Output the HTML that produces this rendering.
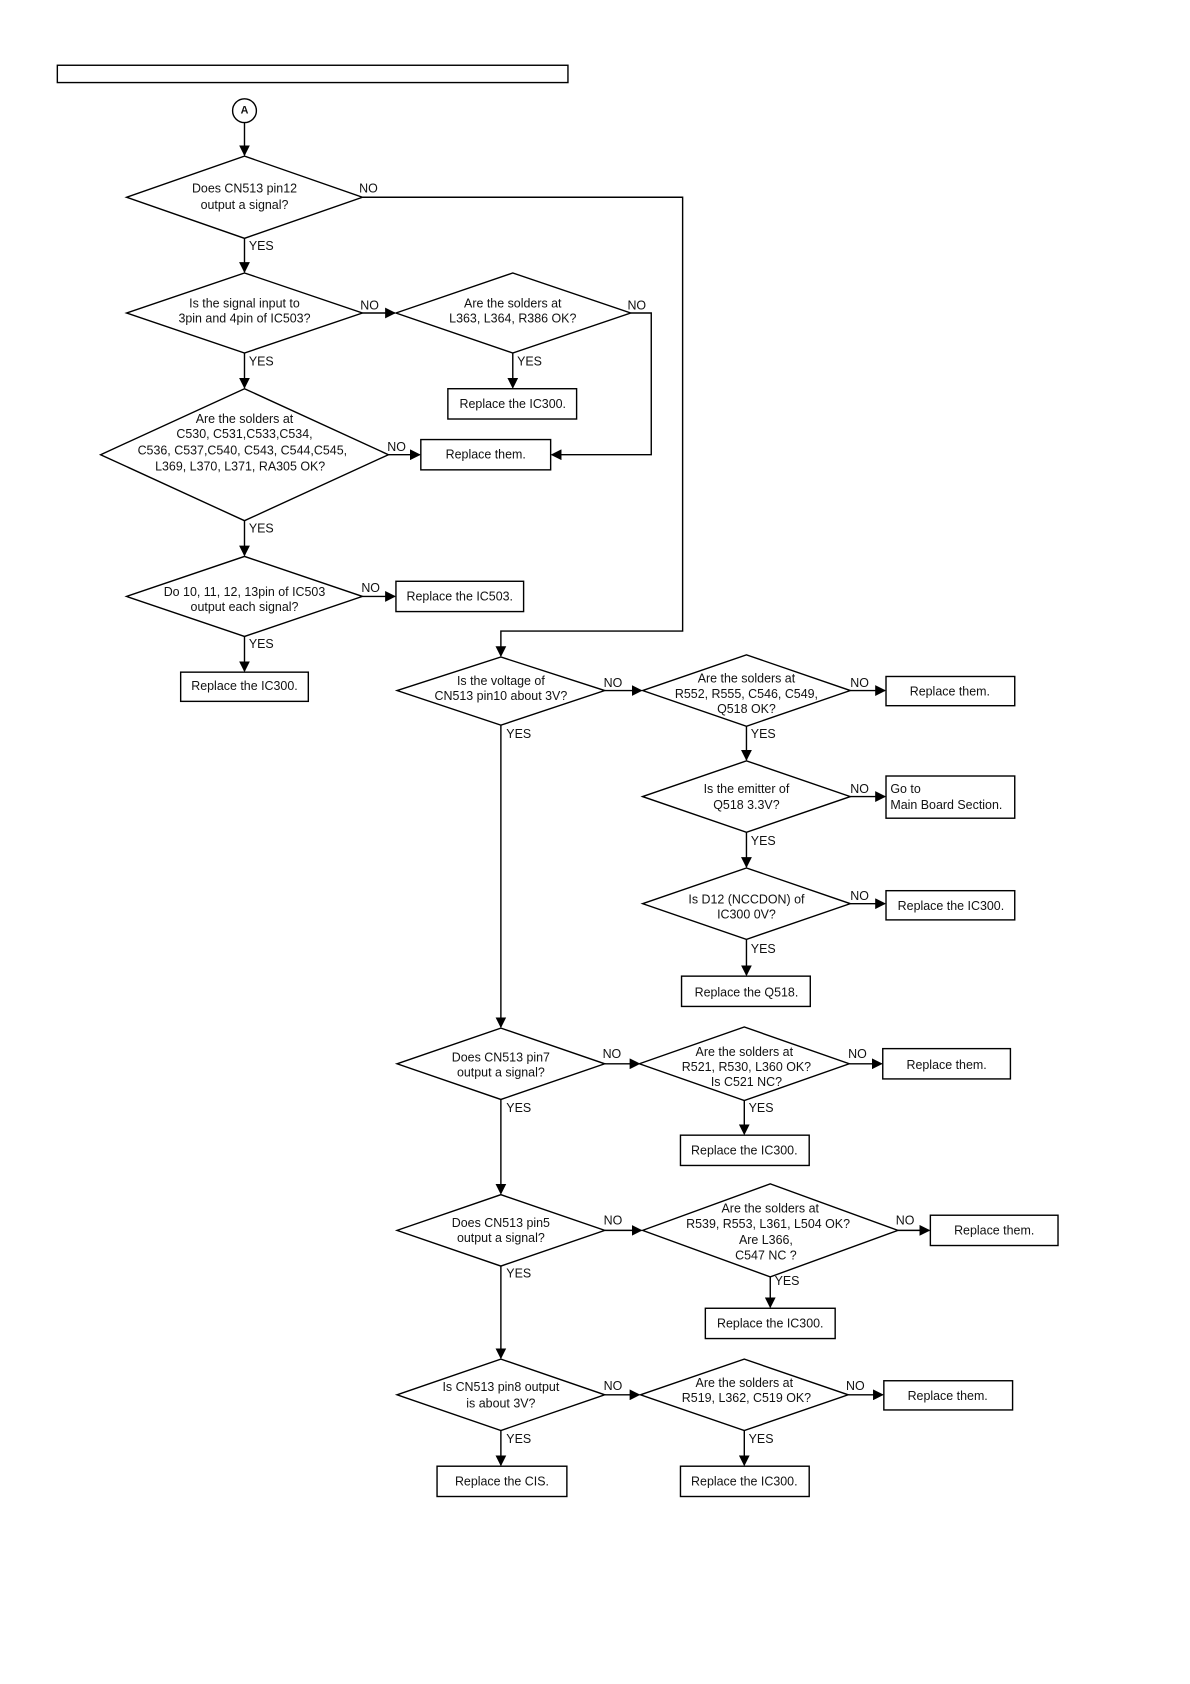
<!DOCTYPE html>
<html><head><meta charset="utf-8"><style>
html,body{margin:0;padding:0;background:#fff}
svg{display:block}
text{font-family:"Liberation Sans",Arial,sans-serif;font-size:11.5px;fill:#111;dominant-baseline:central}
.c{text-anchor:middle}
</style></head><body>
<svg width="1190" height="1684" viewBox="0 0 1100 1556" xmlns="http://www.w3.org/2000/svg">
<defs><marker id="a" markerWidth="10" markerHeight="10" refX="9" refY="5" orient="auto" markerUnits="userSpaceOnUse"><path d="M0,0 L10,5 L0,10 z" fill="#000"/></marker></defs>
<g stroke="#000" stroke-width="1.3" fill="none">
<rect x="53" y="60" width="472" height="16"/>
<circle cx="226" cy="102" r="11"/>
<line x1="226" y1="113" x2="226" y2="143" marker-end="url(#a)"/>
<polygon points="117,182 226,144 335,182 226,220"/>
<polyline points="335,182 631,182 631,583 463,583 463,606" marker-end="url(#a)"/>
<line x1="226" y1="220" x2="226" y2="251" marker-end="url(#a)"/>
<polygon points="117,289 226,252 335,289 226,326"/>
<line x1="335" y1="289" x2="365" y2="289" marker-end="url(#a)"/>
<polygon points="366,289 474,252 583,289 474,326"/>
<polyline points="583,289 602,289 602,420 510,420" marker-end="url(#a)"/>
<line x1="474" y1="326" x2="474" y2="358" marker-end="url(#a)"/>
<rect x="414" y="359" width="119" height="28"/>
<line x1="226" y1="326" x2="226" y2="358" marker-end="url(#a)"/>
<polygon points="93,420 226,359 359,420 226,481"/>
<line x1="359" y1="420" x2="388" y2="420" marker-end="url(#a)"/>
<rect x="389" y="406" width="120" height="28"/>
<line x1="226" y1="481" x2="226" y2="513" marker-end="url(#a)"/>
<polygon points="117,551 226,514 335,551 226,588"/>
<line x1="335" y1="551" x2="365" y2="551" marker-end="url(#a)"/>
<rect x="366" y="537" width="118" height="28"/>
<line x1="226" y1="588" x2="226" y2="620" marker-end="url(#a)"/>
<rect x="167" y="621" width="118" height="27"/>

<polygon points="367,638 463,607 559,638 463,670"/>
<line x1="559" y1="638" x2="593" y2="638" marker-end="url(#a)"/>
<polygon points="594,638 690,605 786,638 690,671"/>
<line x1="786" y1="638" x2="818" y2="638" marker-end="url(#a)"/>
<rect x="819" y="625" width="119" height="27"/>
<line x1="690" y1="671" x2="690" y2="702" marker-end="url(#a)"/>
<polygon points="594,736 690,703 786,736 690,769"/>
<line x1="786" y1="736" x2="818" y2="736" marker-end="url(#a)"/>
<rect x="819" y="717" width="119" height="39"/>
<line x1="690" y1="769" x2="690" y2="801" marker-end="url(#a)"/>
<polygon points="594,835 690,802 786,835 690,868"/>
<line x1="786" y1="835" x2="818" y2="835" marker-end="url(#a)"/>
<rect x="819" y="823" width="119" height="27"/>
<line x1="690" y1="868" x2="690" y2="901" marker-end="url(#a)"/>
<rect x="630" y="902" width="119" height="28"/>
<line x1="463" y1="670" x2="463" y2="949" marker-end="url(#a)"/>

<polygon points="367,983 463,950 559,983 463,1016"/>
<line x1="559" y1="983" x2="591" y2="983" marker-end="url(#a)"/>
<polygon points="591,983 688,949 785,983 688,1017"/>
<line x1="785" y1="983" x2="815" y2="983" marker-end="url(#a)"/>
<rect x="816" y="969" width="118" height="28"/>
<line x1="688" y1="1017" x2="688" y2="1048" marker-end="url(#a)"/>
<rect x="629" y="1049" width="119" height="28"/>
<line x1="463" y1="1016" x2="463" y2="1103" marker-end="url(#a)"/>

<polygon points="367,1137 463,1104 559,1137 463,1170"/>
<line x1="559" y1="1137" x2="593" y2="1137" marker-end="url(#a)"/>
<polygon points="594,1137 712,1094 830,1137 712,1180"/>
<line x1="830" y1="1137" x2="859" y2="1137" marker-end="url(#a)"/>
<rect x="860" y="1123" width="118" height="28"/>
<line x1="712" y1="1180" x2="712" y2="1208" marker-end="url(#a)"/>
<rect x="652" y="1209" width="120" height="28"/>
<line x1="463" y1="1170" x2="463" y2="1255" marker-end="url(#a)"/>

<polygon points="367,1289 463,1256 559,1289 463,1322"/>
<line x1="559" y1="1289" x2="591" y2="1289" marker-end="url(#a)"/>
<polygon points="592,1289 688,1256 784,1289 688,1322"/>
<line x1="784" y1="1289" x2="816" y2="1289" marker-end="url(#a)"/>
<rect x="817" y="1276" width="119" height="27"/>
<line x1="688" y1="1322" x2="688" y2="1354" marker-end="url(#a)"/>
<rect x="629" y="1355" width="119" height="28"/>
<line x1="463" y1="1322" x2="463" y2="1354" marker-end="url(#a)"/>
<rect x="404" y="1355" width="120" height="28"/>
</g>
<text class="c" x="226" y="102" style="font-weight:bold;font-size:10px">A</text>
<text class="c" x="226" y="174">Does CN513 pin12</text><text class="c" x="226" y="189">output a signal?</text>
<text x="332" y="174">NO</text><text x="230" y="227">YES</text>
<text class="c" x="226" y="280">Is the signal input to</text><text class="c" x="226" y="294">3pin and 4pin of IC503?</text>
<text x="333" y="282">NO</text>
<text class="c" x="474" y="280">Are the solders at</text><text class="c" x="474" y="294">L363, L364, R386 OK?</text>
<text x="580" y="282">NO</text><text x="478" y="334">YES</text>
<text class="c" x="474" y="373">Replace the IC300.</text>
<text x="230" y="334">YES</text>
<text class="c" x="226" y="387">Are the solders at</text><text class="c" x="226" y="401">C530, C531,C533,C534,</text>
<text class="c" x="224" y="416">C536, C537,C540, C543, C544,C545,</text><text class="c" x="222" y="431">L369, L370, L371, RA305 OK?</text>
<text x="358" y="413">NO</text>
<text class="c" x="449" y="420">Replace them.</text>
<text x="230" y="488">YES</text>
<text class="c" x="226" y="547">Do 10, 11, 12, 13pin of IC503</text><text class="c" x="226" y="561">output each signal?</text>
<text x="334" y="543">NO</text>
<text class="c" x="425" y="551">Replace the IC503.</text>
<text x="230" y="595">YES</text>
<text class="c" x="226" y="634">Replace the IC300.</text>

<text class="c" x="463" y="629">Is the voltage of</text><text class="c" x="463" y="643">CN513 pin10 about 3V?</text>
<text x="558" y="631">NO</text><text x="468" y="678">YES</text>
<text class="c" x="690" y="627">Are the solders at</text><text class="c" x="690" y="641">R552, R555, C546, C549,</text><text class="c" x="690" y="655">Q518 OK?</text>
<text x="786" y="631">NO</text>
<text class="c" x="878" y="639">Replace them.</text>
<text x="694" y="678">YES</text>
<text class="c" x="690" y="729">Is the emitter of</text><text class="c" x="690" y="744">Q518 3.3V?</text>
<text x="786" y="729">NO</text>
<text x="823" y="729">Go to</text><text x="823" y="744">Main Board Section.</text>
<text x="694" y="777">YES</text>
<text class="c" x="690" y="831">Is D12 (NCCDON) of</text><text class="c" x="690" y="845">IC300 0V?</text>
<text x="786" y="828">NO</text>
<text class="c" x="879" y="837">Replace the IC300.</text>
<text x="694" y="877">YES</text>
<text class="c" x="690" y="917">Replace the Q518.</text>

<text class="c" x="463" y="977">Does CN513 pin7</text><text class="c" x="463" y="991">output a signal?</text>
<text x="557" y="974">NO</text>
<text class="c" x="688" y="972">Are the solders at</text><text class="c" x="690" y="986">R521, R530, L360 OK?</text><text class="c" x="690" y="1000">Is C521 NC?</text>
<text x="784" y="974">NO</text>
<text class="c" x="875" y="984">Replace them.</text>
<text x="692" y="1024">YES</text><text x="468" y="1024">YES</text>
<text class="c" x="688" y="1063">Replace the IC300.</text>

<text class="c" x="463" y="1130">Does CN513 pin5</text><text class="c" x="463" y="1144">output a signal?</text>
<text x="558" y="1128">NO</text>
<text class="c" x="712" y="1117">Are the solders at</text><text class="c" x="710" y="1131">R539, R553, L361, L504 OK?</text>
<text class="c" x="708" y="1146">Are L366,</text><text class="c" x="708" y="1160">C547 NC ?</text>
<text x="828" y="1128">NO</text>
<text class="c" x="919" y="1137">Replace them.</text>
<text x="716" y="1184">YES</text><text x="468" y="1177">YES</text>
<text class="c" x="712" y="1223">Replace the IC300.</text>

<text class="c" x="463" y="1282">Is CN513 pin8 output</text><text class="c" x="463" y="1297">is about 3V?</text>
<text x="558" y="1281">NO</text>
<text class="c" x="688" y="1278">Are the solders at</text><text class="c" x="690" y="1292">R519, L362, C519 OK?</text>
<text x="782" y="1281">NO</text>
<text class="c" x="876" y="1290">Replace them.</text>
<text x="692" y="1330">YES</text><text x="468" y="1330">YES</text>
<text class="c" x="688" y="1369">Replace the IC300.</text>
<text class="c" x="464" y="1369">Replace the CIS.</text>
</svg>
</body></html>
